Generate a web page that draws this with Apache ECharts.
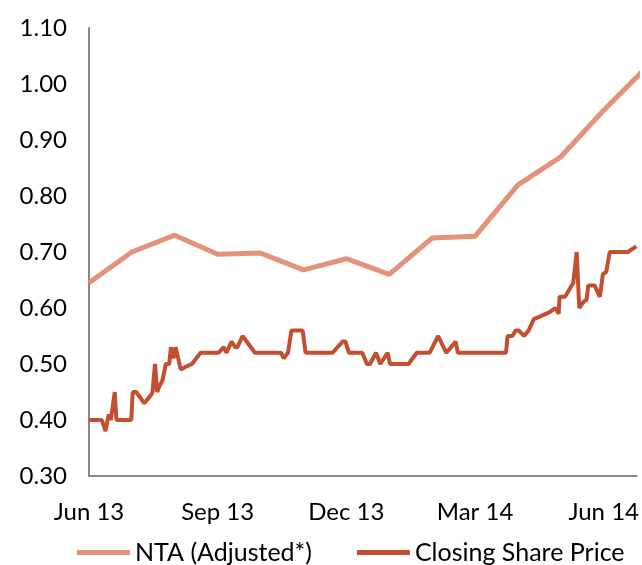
<!DOCTYPE html>
<html>
<head>
<meta charset="utf-8">
<script src="https://cdn.jsdelivr.net/npm/echarts@6/dist/echarts.min.js"></script>
<style>
  html, body { margin: 0; padding: 0; background: #fff; }
  #chart { width: 642px; height: 565px; }
</style>
</head>
<body>
<div id="chart"></div>
<script>
// x positions are months since start of Jun 2013
const tickLabels = { 0: "Jun 13", 3: "Sep 13", 6: "Dec 13", 9: "Mar 14", 12: "Jun 14" };

// NTA (month-end)
const ntaMonths = [0, 1, 2, 3, 4, 5, 6, 7, 8, 9, 10, 11, 12, 13];
const ntaValues = [0.645, 0.70, 0.73, 0.696, 0.698, 0.668, 0.688, 0.66, 0.725, 0.728, 0.82, 0.87, 0.953, 1.03];

// Closing share price
const priceMonths = [
  0.00, 0.30, 0.385, 0.46, 0.51, 0.60, 0.64, 0.985, 1.02, 1.10,
  1.29, 1.45, 1.48, 1.54, 1.59, 1.64, 1.71, 1.79, 1.87, 1.91,
  1.97, 2.02, 2.14, 2.25, 2.40, 2.60, 3.02, 3.14, 3.21, 3.32,
  3.41, 3.46, 3.58, 3.87, 4.48, 4.54, 4.64, 4.72, 4.98, 5.05,
  5.68, 5.91, 5.98, 6.06, 6.37, 6.48, 6.55, 6.69, 6.79, 6.96,
  7.02, 7.45, 7.64, 7.94, 8.14, 8.33, 8.55, 8.60, 9.72, 9.76,
  9.87, 9.95, 10.02, 10.14, 10.25, 10.37, 10.52, 10.75, 10.87, 10.95,
  10.97, 11.10, 11.29, 11.37, 11.43, 11.52, 11.60, 11.64, 11.79, 11.91,
  11.98, 12.06, 12.14, 12.56, 12.76
];
const priceValues = [
  0.40, 0.40, 0.38, 0.41, 0.40, 0.45, 0.40, 0.40, 0.45, 0.45,
  0.43, 0.445, 0.45, 0.50, 0.45, 0.46, 0.47, 0.50, 0.50, 0.53,
  0.51, 0.53, 0.49, 0.495, 0.50, 0.52, 0.52, 0.53, 0.52, 0.54,
  0.53, 0.53, 0.55, 0.52, 0.52, 0.51, 0.52, 0.56, 0.56, 0.52,
  0.52, 0.54, 0.54, 0.52, 0.52, 0.50, 0.50, 0.52, 0.50, 0.52,
  0.50, 0.50, 0.52, 0.52, 0.55, 0.52, 0.54, 0.52, 0.52, 0.55,
  0.55, 0.56, 0.56, 0.55, 0.56, 0.58, 0.585, 0.593, 0.60, 0.59,
  0.62, 0.62, 0.645, 0.70, 0.60, 0.61, 0.615, 0.64, 0.64, 0.62,
  0.66, 0.665, 0.70, 0.70, 0.71
];

const font = "Lato, 'Noto Sans', sans-serif";
const chart = echarts.init(document.getElementById("chart"), null, { renderer: "canvas" });

chart.setOption({
  animation: false,
  textStyle: { fontFamily: font },
  grid: { left: 89, right: 0, top: 28, bottom: 89 },
  legend: {
    top: 535,
    left: 72,
    itemWidth: 53,
    itemHeight: 5,
    itemGap: 45,
    icon: "rect",
    textStyle: { fontSize: 25, color: "#000", fontFamily: font },
    data: ["NTA (Adjusted*)", "Closing Share Price"]
  },
  xAxis: {
    type: "value",
    min: 0,
    max: 12.77,
    interval: 3,
    axisLine: { show: true, lineStyle: { color: "#888888", width: 2 } },
    axisTick: { show: false },
    splitLine: { show: false },
    axisLabel: {
      fontSize: 24,
      color: "#000",
      margin: 24,
      showMaxLabel: false,
      formatter: (v) => tickLabels[Math.round(v)] !== undefined && Math.abs(v - Math.round(v)) < 1e-6 ? tickLabels[Math.round(v)] : ""
    }
  },
  yAxis: {
    type: "value",
    min: 0.3,
    max: 1.1,
    interval: 0.1,
    axisLine: { show: true, lineStyle: { color: "#888888", width: 2 } },
    axisTick: { show: false },
    splitLine: { show: false },
    axisLabel: {
      fontSize: 24,
      color: "#000",
      margin: 22,
      formatter: (v) => v.toFixed(2)
    }
  },
  series: [
    {
      name: "NTA (Adjusted*)",
      type: "line",
      data: ntaMonths.map((m, i) => [m, ntaValues[i]]),
      showSymbol: false,
      symbol: "none",
      lineStyle: { width: 5, color: "#E3937A" },
      itemStyle: { color: "#E3937A" }
    },
    {
      name: "Closing Share Price",
      type: "line",
      data: priceMonths.map((m, i) => [m, priceValues[i]]),
      showSymbol: false,
      symbol: "none",
      lineStyle: { width: 4, color: "#C24F2F" },
      itemStyle: { color: "#C24F2F" }
    }
  ]
});
</script>
</body>
</html>
